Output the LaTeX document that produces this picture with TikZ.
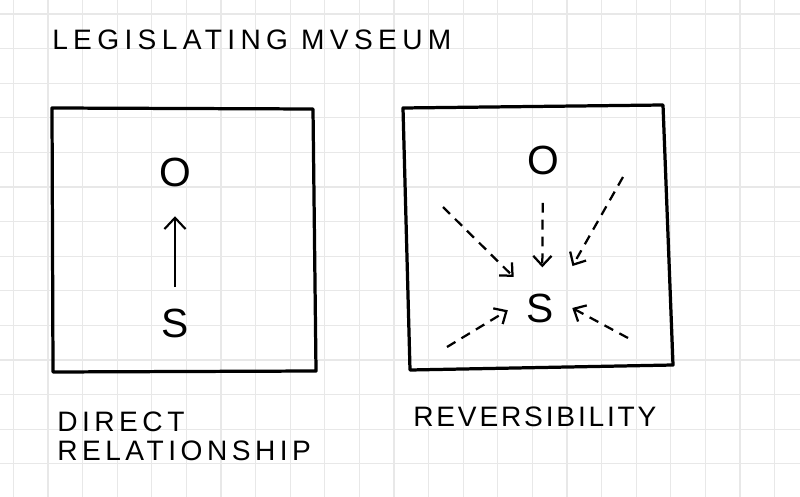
\documentclass[tikz,border=0pt]{standalone}
\usepackage{fontspec}
\setmainfont{Liberation Sans}
\usetikzlibrary{arrows.meta}
\begin{document}
\begin{tikzpicture}[x=0.025cm, y=-0.025cm,
    gridline/.style={draw=black!9, line width=0.9pt},
    sketchbox/.style={line width=2.3pt, line join=round, line cap=round},
    letter/.style={inner sep=0pt, font=\fontsize{29}{30}\selectfont},
    caption/.style={anchor=west, inner sep=0pt, font=\fontsize{20}{22}\selectfont\addfontfeature{LetterSpace=16}},
    solidarrow/.style={line width=1.5pt, -{Straight Barb[length=8pt, width=15pt]}},
    dasharrow/.style={line width=1.6pt, dash pattern=on 7pt off 5pt, -{Straight Barb[length=7pt, width=13pt]}}]
  \fill[white] (0,0) rectangle (800,497);
  \useasboundingbox (0,0) rectangle (800,497);
  % grid paper
  \foreach \i in {0,...,22}
    \draw[gridline] (13.4+34.6*\i,0) -- (13.4+34.6*\i,497);
  \foreach \j in {0,...,14}
    \draw[gridline] (0,14+34.6*\j) -- (800,14+34.6*\j);

  \node[caption, font=\fontsize{20}{22}\selectfont\addfontfeature{LetterSpace=19}] (title) at (52,40) {LEGISLATING MVSEUM};

  % left panel
  \draw[sketchbox] (52,108) -- (313,109) -- (316,371) -- (53,372) -- cycle;
  \node[letter] (o1) at (175,172) {O};
  \node[letter] (s1) at (175,323) {S};
  \draw[solidarrow, shorten <=15pt, shorten >=21pt] (s1) -- (o1);
  \node[caption] (direct) at (57,422) {DIRECT};
  \node[caption] (relation) at (57,451) {RELATIONSHIP};

  % right panel
  \draw[sketchbox] (403,108) -- (663,105) -- (673,365) -- (410,370) -- cycle;
  \node[letter] (o2) at (543,160) {O};
  \node[letter] (s2) at (540,308) {S};
  \node[circle, minimum size=1.6cm, inner sep=0pt] (r2) at (540,308) {};
  \coordinate (ul) at (443,207);
  \coordinate (ur) at (623,177);
  \coordinate (ll) at (447,347);
  \coordinate (lr) at (628,338);
  \draw[dasharrow, shorten <=20pt, shorten >=6pt] (o2) -- (r2.86);
  \draw[dasharrow, shorten >=6pt] (ul) -- (r2.129);
  \draw[dasharrow, shorten >=15pt] (ur) -- (r2.47);
  \draw[dasharrow] (ll) -- (r2.184);
  \draw[dasharrow] (lr) -- (r2.0);
  \node[caption, font=\fontsize{20}{22}\selectfont\addfontfeature{LetterSpace=10}] (revers) at (413,417) {REVERSIBILITY};
\end{tikzpicture}
\end{document}
